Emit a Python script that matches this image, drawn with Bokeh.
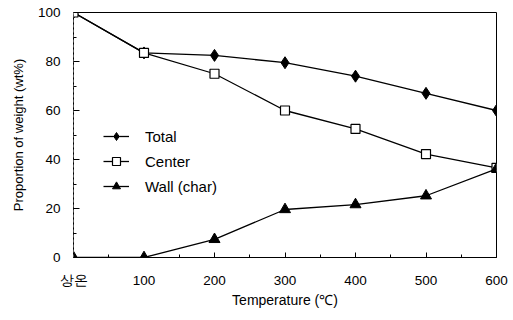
from bokeh.plotting import figure
from bokeh.models import FixedTicker, Range1d, Legend, LegendItem
from bokeh.embed import file_html
from bokeh.resources import INLINE

categories = ["상온", "100", "200", "300", "400", "500", "600"]
total = [100, 83.5, 82.5, 79.5, 74, 67, 60]
center = [100, 83.5, 75, 60, 52.5, 42.2, 36.6]
wall = [0, 0, 7.4, 19.6, 21.6, 25.2, 36.2]

xs = list(range(len(categories)))

p = figure(width=513, height=320, output_backend="svg", toolbar_location=None,
           x_range=Range1d(0, 6), y_range=Range1d(0, 100))
p.min_border_left = 73
p.min_border_right = 17
p.min_border_top = 12
p.min_border_bottom = 63
p.background_fill_color = "white"
p.border_fill_color = "white"
p.outline_line_color = "black"
p.outline_line_width = 1
p.xgrid.visible = False
p.ygrid.visible = False

font = "Liberation Sans"

# x axis
p.xaxis.ticker = FixedTicker(ticks=xs, minor_ticks=[i + 0.5 for i in range(6)])
p.xaxis.major_label_overrides = {i: c for i, c in enumerate(categories)}
p.xaxis.major_tick_in = 5
p.xaxis.major_tick_out = 0
p.xaxis.minor_tick_in = 3
p.xaxis.minor_tick_out = 0
p.xaxis.major_label_standoff = 15
p.xaxis.major_label_text_font = font
p.xaxis.major_label_text_font_size = "13.5px"
p.xaxis.major_label_text_color = "black"
p.xaxis.axis_label = "Temperature (℃)"
p.xaxis.axis_label_text_font = font
p.xaxis.axis_label_text_font_style = "normal"
p.xaxis.axis_label_text_font_size = "14px"
p.xaxis.axis_label_text_color = "black"
p.xaxis.axis_label_standoff = 1
p.xaxis.axis_line_color = "black"

# y axis
p.yaxis.ticker = FixedTicker(ticks=[0, 20, 40, 60, 80, 100], minor_ticks=[10, 30, 50, 70, 90])
p.yaxis.major_tick_in = 6
p.yaxis.major_tick_out = 0
p.yaxis.minor_tick_in = 3
p.yaxis.minor_tick_out = 0
p.yaxis.major_label_standoff = 13
p.yaxis.major_label_text_font = font
p.yaxis.major_label_text_font_size = "13.5px"
p.yaxis.major_label_text_color = "black"
p.yaxis.axis_label = "Proportion of weight (wt%)"
p.yaxis.axis_label_text_font = font
p.yaxis.axis_label_text_font_style = "normal"
p.yaxis.axis_label_text_font_size = "13px"
p.yaxis.axis_label_text_color = "black"
p.yaxis.axis_label_standoff = 9
p.yaxis.axis_line_color = "#555555"
p.yaxis.axis_line_dash = "3 2"

# series
l1 = p.line(xs, total, line_color="black", line_width=1.3)
m1 = p.scatter(xs, total, marker="diamond", size=12, fill_color="black", line_color="black")
l2 = p.line(xs, center, line_color="black", line_width=1.3)
m2 = p.scatter(xs, center, marker="square", size=9, fill_color="white", line_color="black", line_width=1.2)
l3 = p.line(xs, wall, line_color="black", line_width=1.3)
m3 = p.scatter(xs, wall, marker="triangle", size=11, fill_color="black", line_color="black")

legend = Legend(items=[
    LegendItem(label="Total", renderers=[l1, m1]),
    LegendItem(label="Center", renderers=[l2, m2]),
    LegendItem(label="Wall (char)", renderers=[l3, m3]),
], location=(30, 61))
legend.padding = 0
legend.margin = 0
legend.spacing = 5
legend.glyph_width = 26
legend.glyph_height = 20
legend.label_standoff = 16
legend.label_text_font = font
legend.label_text_font_size = "15px"
legend.label_text_color = "black"
legend.border_line_color = None
legend.background_fill_alpha = 0
p.add_layout(legend)

open("out.html", "w").write(file_html(p, INLINE))
